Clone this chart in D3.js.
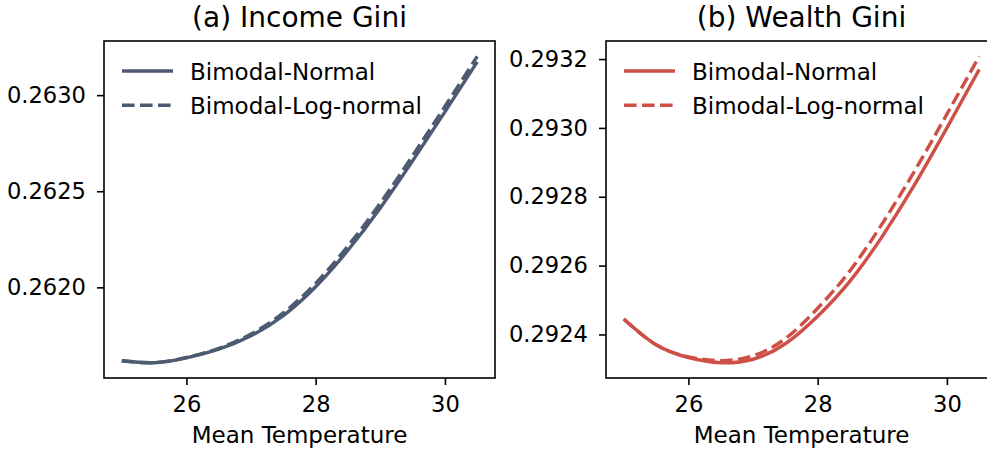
<!DOCTYPE html>
<html>
<head>
<meta charset="utf-8">
<script src="https://cdn.jsdelivr.net/npm/d3@7"></script>
<style>
  body { margin: 0; background: #fff; }
  svg { display: block; font-family: "DejaVu Sans", sans-serif; }
</style>
</head>
<body>
<div id="chart"></div>
<script>
// data
var temps = [25, 25.5, 26, 26.5, 27, 27.5, 28, 28.5, 29, 29.5, 30, 30.5];

var incomeNormal = [0.261618, 0.261608, 0.261633, 0.261678, 0.261748, 0.261853, 0.262003, 0.262193, 0.262413, 0.262658, 0.262913, 0.263173];
var incomeLogNormal = [0.261618, 0.261608, 0.261635, 0.261683, 0.261757, 0.261867, 0.262021, 0.262215, 0.262438, 0.262685, 0.262941, 0.263202];

var wealthNormal = [0.292445, 0.292370, 0.292333, 0.292318, 0.292328, 0.292373, 0.292453, 0.292555, 0.292685, 0.292835, 0.293000, 0.293170];
var wealthLogNormal = [0.292445, 0.292370, 0.292335, 0.292324, 0.292338, 0.292388, 0.292476, 0.292585, 0.292722, 0.292875, 0.293040, 0.293208];

var xTicks = [26, 28, 30];
var incomeTicks = [0.2620, 0.2625, 0.2630];
var wealthTicks = [0.2924, 0.2926, 0.2928, 0.2930, 0.2932];
var seriesNames = ["Bimodal-Normal", "Bimodal-Log-normal"];

var width = 987, height = 451;
var svg = d3.select("#chart").append("svg")
    .attr("width", width)
    .attr("height", height);

function drawPanel(opts) {
    var left = opts.left, top = 41, w = 391, h = 337;

    var allY = opts.normal.concat(opts.lognormal);
    var yMin = d3.min(allY), yMax = d3.max(allY);
    var yPad = (yMax - yMin) * 0.05;
    var xPad = (d3.max(temps) - d3.min(temps)) * 0.05;

    var x = d3.scaleLinear()
        .domain([d3.min(temps) - xPad, d3.max(temps) + xPad])
        .range([0, w]);
    var y = d3.scaleLinear()
        .domain([yMin - yPad, yMax + yPad])
        .range([h, 0]);

    var g = svg.append("g")
        .attr("transform", "translate(" + left + "," + top + ")");

    var clipId = "clip-" + opts.key;
    g.append("clipPath").attr("id", clipId)
        .append("rect").attr("width", w).attr("height", h);

    var xAxis = d3.axisBottom(x).tickValues(xTicks).tickSize(7).tickPadding(11)
        .tickFormat(d3.format("d"));
    var yAxis = d3.axisLeft(y).tickValues(opts.yTicks).tickSize(7).tickPadding(11)
        .tickFormat(d3.format(".4f"));

    var gx = g.append("g")
        .attr("transform", "translate(0," + h + ")")
        .call(xAxis);
    var gy = g.append("g").call(yAxis);

    [gx, gy].forEach(function (ax) {
        ax.select(".domain").remove();
        ax.selectAll("line").attr("stroke", "#000").attr("stroke-width", 1.6);
        ax.selectAll("text")
            .attr("fill", "#000")
            .style("font-size", "22.6px")
            .style("font-family", "DejaVu Sans");
    });

    var line = d3.line()
        .x(function (d, i) { return x(temps[i]); })
        .y(function (d) { return y(d); })
        .curve(d3.curveNatural);

    var plot = g.append("g").attr("clip-path", "url(#" + clipId + ")");

    plot.append("path")
        .datum(opts.normal)
        .attr("d", line)
        .attr("fill", "none")
        .attr("stroke", opts.color)
        .attr("stroke-width", 3.4);

    plot.append("path")
        .datum(opts.lognormal)
        .attr("d", line)
        .attr("fill", "none")
        .attr("stroke", opts.color)
        .attr("stroke-width", 3.4)
        .attr("stroke-dasharray", "12.6,5.4");

    // frame
    g.append("rect")
        .attr("width", w)
        .attr("height", h)
        .attr("fill", "none")
        .attr("stroke", "#000")
        .attr("stroke-width", 1.6);

    // title
    g.append("text")
        .attr("x", w / 2)
        .attr("y", 27 - top)
        .attr("text-anchor", "middle")
        .style("font-size", "28px")
        .text(opts.title);

    // x label
    g.append("text")
        .attr("x", w / 2)
        .attr("y", 443 - top)
        .attr("text-anchor", "middle")
        .style("font-size", "23px")
        .text("Mean Temperature");

    // legend
    var legend = g.append("g").attr("transform", "translate(18,30)");
    seriesNames.forEach(function (name, i) {
        var row = legend.append("g").attr("transform", "translate(0," + (i * 34.3) + ")");
        row.append("line")
            .attr("x1", 0).attr("x2", 51)
            .attr("y1", 0).attr("y2", 0)
            .attr("stroke", opts.color)
            .attr("stroke-width", 3.4)
            .attr("stroke-dasharray", i === 1 ? "12.6,5.4" : null);
        row.append("text")
            .attr("x", 68)
            .attr("y", 8.5)
            .style("font-size", "23px")
            .text(name);
    });
}

drawPanel({
    key: "income",
    left: 104,
    title: "(a) Income Gini",
    normal: incomeNormal,
    lognormal: incomeLogNormal,
    yTicks: incomeTicks,
    color: "#4c5a72"
});

drawPanel({
    key: "wealth",
    left: 606,
    title: "(b) Wealth Gini",
    normal: wealthNormal,
    lognormal: wealthLogNormal,
    yTicks: wealthTicks,
    color: "#cd4f46"
});
</script>
</body>
</html>
